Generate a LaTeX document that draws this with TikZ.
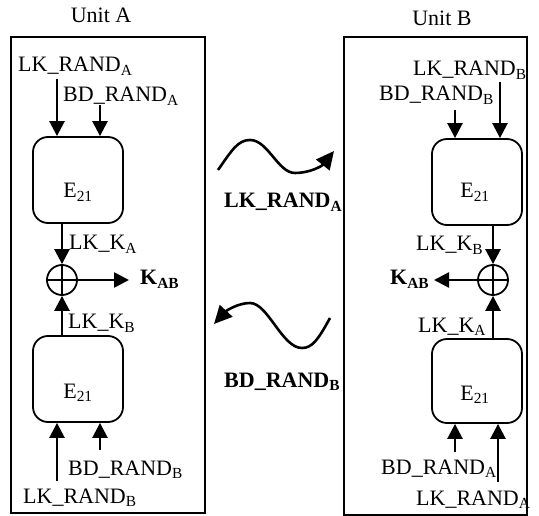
\documentclass[tikz,border=0pt]{standalone}
\usepackage{fontspec}
\setmainfont{Liberation Serif}
\usetikzlibrary{arrows.meta}
\tikzset{
  unitbox/.style={draw, line width=1.8pt},
  ebox/.style={draw, line width=1.8pt, rounded corners=15pt, minimum width=90pt, minimum height=86pt, inner sep=0pt},
  xorc/.style={draw, circle, line width=1.8pt, minimum size=30pt, inner sep=0pt},
  arr/.style={line width=2.6pt, -{Triangle[length=15pt,width=15pt]}},
  wave/.style={line width=2.6pt, -{Triangle[length=18pt,width=17pt]}},
  lbl/.style={inner sep=0pt, anchor=base west, font=\fontsize{22}{26}\selectfont},
  clbl/.style={inner sep=0pt, anchor=base, font=\fontsize{22}{26}\selectfont},
  blbl/.style={inner sep=0pt, anchor=base west, font=\fontsize{22}{26}\selectfont\bfseries},
}
\newcommand{\sbs}[1]{\textsubscript{#1}}
\begin{document}
\begin{tikzpicture}[x=1pt,y=-1pt]
\useasboundingbox (0,0) rectangle (539,516);
% unit boxes
\draw[unitbox] (11,37) rectangle (205,513);
\draw[unitbox] (344,37) rectangle (527,515);
\node[clbl] (unitA) at (101,23) {Unit A};
\node[clbl] (unitB) at (442,26) {Unit B};

% ---------- Unit A ----------
\node[ebox] (ea1) at (78,180) {};
\node[clbl] (ea1t) at (78,198) {E\sbs{21}};
\node[ebox] (ea2) at (78,379) {};
\node[clbl] (ea2t) at (78,398) {E\sbs{21}};
\node[xorc] (xa) at (62,280) {};
\draw[line width=1.5pt] (xa.north) -- (xa.south) (xa.west) -- (xa.east);

\node[lbl] (la1) at (18,72) {LK\_RAND\sbs{A}};
\node[lbl] (la2) at (63,102) {BD\_RAND\sbs{A}};
\node[lbl] (la3) at (69,250) {LK\_K\sbs{A}};
\node[blbl] (la4) at (140,285) {K\sbs{AB}};
\node[lbl] (la5) at (68,329) {LK\_K\sbs{B}};
\node[lbl] (la6) at (68,475) {BD\_RAND\sbs{B}};
\node[lbl] (la7) at (23,503) {LK\_RAND\sbs{B}};

\coordinate (a1s) at (57,79);
\coordinate (a2s) at (100,105);
\coordinate (a3e) at (129,280);
\coordinate (a6s) at (100,450);
\coordinate (a7s) at (57,481);
\draw[arr] (a1s) -- (a1s |- ea1.north);
\draw[arr] (a2s) -- (a2s |- ea1.north);
\draw[arr] (xa |- ea1.south) -- (xa.north);
\draw[arr] (xa.east) -- (a3e);
\draw[arr] (xa |- ea2.north) -- (xa.south);
\draw[arr] (a6s) -- (a6s |- ea2.south);
\draw[arr] (a7s) -- (a7s |- ea2.south);

% ---------- Unit B ----------
\node[ebox] (eb1) at (477,182) {};
\node[clbl] (eb1t) at (475,198) {E\sbs{21}};
\node[ebox, minimum height=84pt] (eb2) at (477,381) {};
\node[clbl] (eb2t) at (475,400) {E\sbs{21}};
\node[xorc] (xb) at (493,280) {};
\draw[line width=1.5pt] (xb.north) -- (xb.south) (xb.west) -- (xb.east);

\node[lbl] (lb1) at (413,76) {LK\_RAND\sbs{B}};
\node[lbl] (lb2) at (379,101) {BD\_RAND\sbs{B}};
\node[lbl] (lb3) at (416,251) {LK\_K\sbs{B}};
\node[blbl] (lb4) at (390,285) {K\sbs{AB}};
\node[lbl] (lb5) at (418,332) {LK\_K\sbs{A}};
\node[lbl] (lb6) at (381,474) {BD\_RAND\sbs{A}};
\node[lbl] (lb7) at (416,505) {LK\_RAND\sbs{A}};

\coordinate (b1s) at (500,82);
\coordinate (b2s) at (455,110);
\coordinate (b3e) at (434,280);
\coordinate (b6s) at (455,452);
\coordinate (b7s) at (498,482);
\draw[arr] (b1s) -- (b1s |- eb1.north);
\draw[arr] (b2s) -- (b2s |- eb1.north);
\draw[arr] (xb |- eb1.south) -- (xb.north);
\draw[arr] (xb.west) -- (b3e);
\draw[arr] (xb |- eb2.north) -- (xb.south);
\draw[arr] (b6s) -- (b6s |- eb2.south);
\draw[arr] (b7s) -- (b7s |- eb2.south);

% ---------- channel ----------
\coordinate (w1s) at (218,170);
\coordinate (w1e) at (334,151);
\draw[wave] (w1s) .. controls (232,150) and (238,140) .. (250,140)
  .. controls (268,140) and (278,173) .. (295,173)
  .. controls (310,173) and (322,166) .. (w1e);
\node[blbl] (wl1) at (224,208) {LK\_RAND\sbs{A}};

\coordinate (w2s) at (330,318);
\coordinate (w2e) at (214,324);
\draw[wave] (w2s) .. controls (318,340) and (312,348) .. (302,348)
  .. controls (282,348) and (268,303) .. (250,303)
  .. controls (238,303) and (226,311) .. (w2e);
\node[blbl] (wl2) at (224,387) {BD\_RAND\sbs{B}};
\end{tikzpicture}
\end{document}
